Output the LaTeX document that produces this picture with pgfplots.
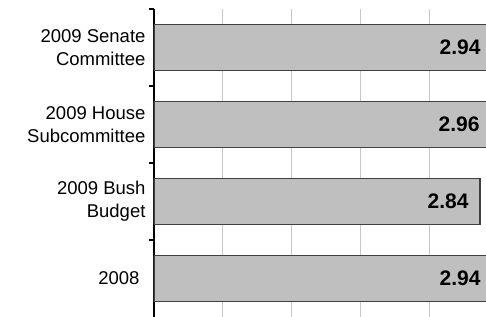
\documentclass[border=0pt]{standalone}
\usepackage{fontspec}
\setmainfont{Liberation Sans}
\usepackage{pgfplots}
\pgfplotsset{compat=1.18}
\begin{document}
\begin{tikzpicture}
\begin{axis}[
  name=ax,
  scale only axis,
  width=332pt, height=308pt,
  xbar, bar width=46pt,
  xmin=0, xmax=2.892,
  ymin=-0.5, ymax=3.5,
  enlarge x limits=false, enlarge y limits=false,
  axis y line*=left,
  axis x line*=bottom,
  x axis line style={draw=none},
  y axis line style={line width=1.8pt, black, -},
  xtick={0.6,1.2,1.8,2.4},
  xticklabels={},
  xmajorgrids,
  major x grid style={draw=black!22, line width=0.9pt},
  major x tick style={draw=none},
  ytick={0.5,1.5,2.5,3.5},
  yticklabels={},
  y tick style={draw=black, line width=1.3pt},
  tick align=outside,
  major tick length=4.5pt,
  extra y ticks={0,1,2,3},
  extra y tick labels={2008\hspace*{6pt},{2009 Bush\\Budget},{2009 House\\Subcommittee},{2009 Senate\\Committee}},
  extra y tick style={major tick length=0pt, tick style={draw=none},
    yticklabel style={align=right, font=\fontsize{18.5}{23}\selectfont, xshift=-5pt}},
  clip=true,
]
\addplot[fill=black!25, draw=black!75, line width=1.6pt] coordinates {(2.94,0) (2.84,1) (2.96,2) (2.94,3)};
\addplot[draw=none, fill=none, mark=none, forget plot, bar width=0pt,
  nodes near coords, point meta=explicit symbolic,
  every node near coord/.style={anchor=east, xshift=0pt, font=\bfseries\fontsize{21}{24}\selectfont, text=black}]
  coordinates {(2.8746,0)[2.94] (2.770,1)[2.84] (2.8659,2)[2.96] (2.8746,3)[2.94]};
\end{axis}
\pgfresetboundingbox
\path[use as bounding box] ([xshift=-154pt,yshift=1pt]ax.south west) rectangle ([yshift=9pt]ax.north east);
\end{tikzpicture}
\end{document}
